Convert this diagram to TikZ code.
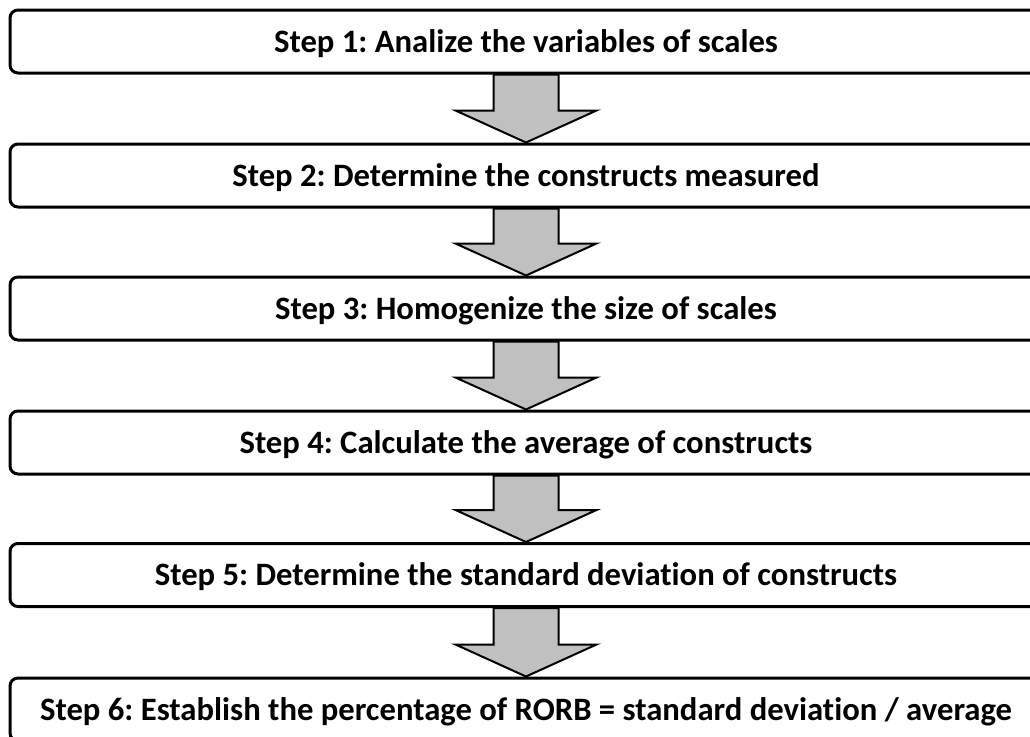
\documentclass[tikz,border=0pt]{standalone}
\usepackage{fontspec}
\setmainfont{Carlito}[Ligatures=NoCommon]
\frenchspacing
\usetikzlibrary{calc}
\definecolor{arrowgray}{RGB}{192,192,192}
\tikzset{
  stepbox/.style={draw=black, line width=2.25pt, rounded corners=6pt, fill=white,
    minimum width=774pt, minimum height=47.25pt, inner sep=0pt,
    font=\fontsize{24.5}{28}\selectfont\bfseries, text height=15.8pt, text depth=0pt},
  downarrow/.style={draw=black, line width=1.5pt, fill=arrowgray, line join=miter}
}
\newcommand{\bigarrow}[2]{%
  \draw[downarrow] ($(#1.south)+(-32.5,0)$) -- ($(#2.north)+(-32.5,-32)$) -- ($(#2.north)+(-70.5,-32)$)
    -- (#2.north) -- ($(#2.north)+(70.5,-32)$) -- ($(#2.north)+(32.5,-32)$) -- ($(#1.south)+(32.5,0)$) -- cycle;}
\begin{document}
\begin{tikzpicture}[x=0.75pt,y=-0.75pt]
\useasboundingbox (0,0) rectangle (1030,736);
\node[stepbox] (s1) at (526,41.5) {\frenchspacing Step 1: Analize the variables of scales};
\node[stepbox] (s2) at (526,175.5) {\frenchspacing Step 2: Determine the constructs measured};
\node[stepbox] (s3) at (526,308.5) {\frenchspacing Step 3: Homogenize the size of scales};
\node[stepbox] (s4) at (526,442.5) {\frenchspacing Step 4: Calculate the average of constructs};
\node[stepbox] (s5) at (526,575) {\frenchspacing Step 5: Determine the standard deviation of constructs};
\node[stepbox] (s6) at (526,709.5) {\frenchspacing Step 6: Establish the percentage of RORB = standard deviation / average};
\bigarrow{s1}{s2}
\bigarrow{s2}{s3}
\bigarrow{s3}{s4}
\bigarrow{s4}{s5}
\bigarrow{s5}{s6}
\end{tikzpicture}
\end{document}
